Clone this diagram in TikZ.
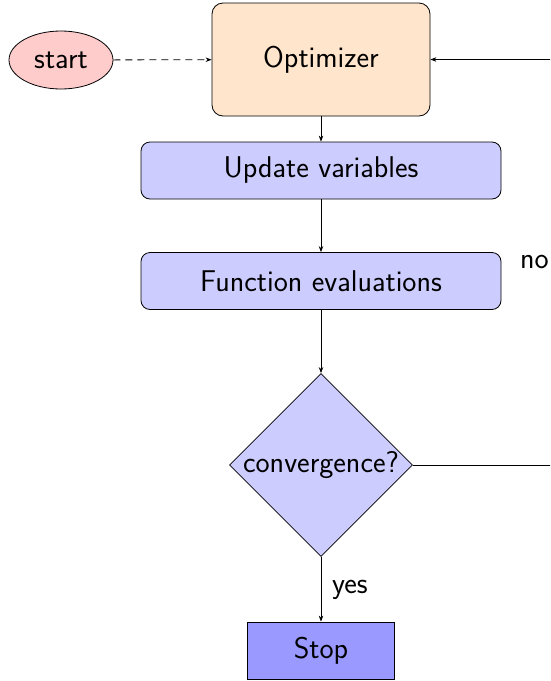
\documentclass[tikz,border=0pt]{standalone}
\usetikzlibrary{shapes.geometric,arrows.meta}
\begin{document}
\begin{tikzpicture}[x=1pt,y=-1pt,
  every node/.style={font=\sffamily\fontsize{30}{36}\selectfont},
  base/.style={draw, line width=0.8pt, inner sep=0pt},
  box/.style={base, rounded corners=9pt, fill=blue!20, minimum width=360pt, minimum height=57pt},
  optbox/.style={base, rounded corners=11pt, fill=orange!20, minimum width=218pt, minimum height=113pt},
  startnode/.style={base, ellipse, fill=red!20, minimum width=104pt, minimum height=58pt},
  decide/.style={base, diamond, aspect=1, fill=blue!20, minimum width=181pt, minimum height=180pt},
  stopbox/.style={base, fill=blue!40, minimum width=147pt, minimum height=57pt},
  conn/.style={line width=0.8pt, -{Stealth[length=6pt,width=4.5pt]}},
  plain/.style={line width=0.8pt},
  lbl/.style={inner sep=0pt, anchor=base west}]
\clip (0,0) rectangle (550,681);
\node[startnode] (start) at (61,60) {start};
\node[optbox] (opt) at (321,59.5) {Optimizer};
\node[box] (upd) at (321,170.5) {Update variables};
\node[box] (fun) at (321,281) {Function evaluations};
\node[decide] (conv) at (321,465) {convergence?};
\node[stopbox] (stop) at (321,650.5) {Stop};
\node[lbl] (nolbl) at (520,268) {no};
\node[lbl] (yeslbl) at (332,593) {yes};
\coordinate (c1) at (575,465);
\coordinate (c2) at (575,59.5);
\draw[conn, dash pattern=on 7pt off 5pt] (start) -- (opt);
\draw[conn] (opt) -- (upd);
\draw[conn] (upd) -- (fun);
\draw[conn] (fun) -- (conv);
\draw[conn] (conv) -- (stop);
\draw[plain] (conv.east) -- (c1);
\draw[conn] (c1) -- (c2) -- (opt.east);
\end{tikzpicture}
\end{document}
